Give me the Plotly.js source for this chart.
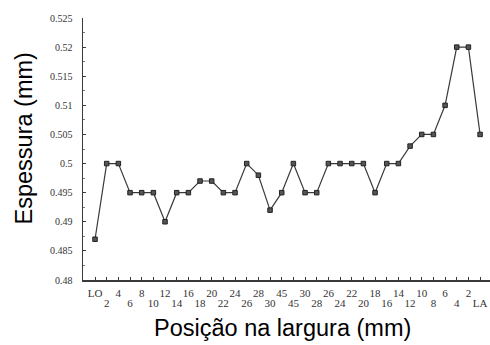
<!DOCTYPE html>
<html>
<head>
<meta charset="utf-8">
<script src="https://cdn.plot.ly/plotly-3.0.1.min.js"></script>
<style>html,body{margin:0;padding:0;background:#fff;}#chart{width:490px;height:345px;}</style>
</head>
<body>
<div id="chart"></div>
<script>
const categories = ["LO","2","4","6","8","10","12","14","16","18","20","22","24","26","28","30","45","45","30","28","26","24","22","20","18","16","14","12","10","8","6","4","2","LA"];
const thickness = [0.487,0.5,0.5,0.495,0.495,0.495,0.49,0.495,0.495,0.497,0.497,0.495,0.495,0.5,0.498,0.492,0.495,0.5,0.495,0.495,0.5,0.5,0.5,0.5,0.495,0.5,0.5,0.503,0.505,0.505,0.51,0.52,0.52,0.505];
const yTicks = [0.48,0.485,0.49,0.495,0.5,0.505,0.51,0.515,0.52,0.525];
const yTickText = ["0.48","0.485","0.49","0.495","0.5","0.505","0.51","0.515","0.52","0.525"];

const idx = categories.map((c,i)=>i);
const upperVals = idx.filter(i=>i%2===0), upperText = upperVals.map(i=>categories[i]);
const lowerVals = idx.filter(i=>i%2===1), lowerText = lowerVals.map(i=>categories[i]);

const ink = '#3a3a3a';
const serif = 'Liberation Serif, Times New Roman, serif';
const trace = {
  x: idx, y: thickness, type:'scatter', mode:'lines+markers',
  line:{color:ink, width:1.2},
  marker:{symbol:'square', size:4.5, color:'#555', line:{color:'#222', width:1}},
  hoverinfo:'skip'
};
const ghost = {x: idx, y: thickness, xaxis:'x2', yaxis:'y', type:'scatter', mode:'none', hoverinfo:'skip', showlegend:false};
const xr = [-1.03, 33.85];
const layout = {
  width:490, height:345,
  margin:{l:83, r:0, t:18, b:65},
  paper_bgcolor:'#fff', plot_bgcolor:'#fff',
  showlegend:false,
  xaxis:{
    range:xr, tickmode:'array', tickvals:upperVals, ticktext:upperText,
    showgrid:false, zeroline:false, showline:true, linecolor:ink, linewidth:1.5,
    ticks:'inside', ticklen:3, tickcolor:ink, tickwidth:1,
    minor:{tickmode:'array', tickvals:lowerVals, ticks:'inside', ticklen:3, tickcolor:ink, tickwidth:1, showgrid:false},
    tickfont:{family:serif, size:11, color:'#333'}, tickangle:0, ticklabelstandoff:2
  },
  xaxis2:{
    range:xr, overlaying:'x', side:'bottom', anchor:'y', tickmode:'array', tickvals:lowerVals, ticktext:lowerText,
    showgrid:false, zeroline:false, showline:false, ticks:'',
    tickfont:{family:serif, size:11, color:'#333'}, tickangle:0, ticklabelstandoff:15
  },
  yaxis:{
    range:[0.48,0.525], tickmode:'array', tickvals:yTicks, ticktext:yTickText,
    showgrid:false, zeroline:false, showline:true, linecolor:ink, linewidth:1.5,
    ticks:'inside', ticklen:3, tickcolor:ink, tickwidth:1,
    minor:{dtick:0.0025, ticks:'inside', ticklen:2, tickcolor:'#777', showgrid:false},
    tickfont:{family:serif, size:10, color:'#333'}, ticklabelstandoff:7
  },
  annotations:[
    {text:'Posição na largura (mm)', xref:'paper', yref:'paper', x:0.49, y:-0.185, xanchor:'center', yanchor:'middle', showarrow:false,
     font:{family:'Liberation Sans, Arial, sans-serif', size:23.5, color:'#000'}},
    {text:'Espessura (mm)', xref:'paper', yref:'paper', x:-0.145, y:0.54, xanchor:'center', yanchor:'middle', showarrow:false, textangle:-90,
     font:{family:'Liberation Sans, Arial, sans-serif', size:23.5, color:'#000'}}
  ]
};
Plotly.newPlot('chart', [trace, ghost], layout, {staticPlot:true, displayModeBar:false});
</script>
</body>
</html>
